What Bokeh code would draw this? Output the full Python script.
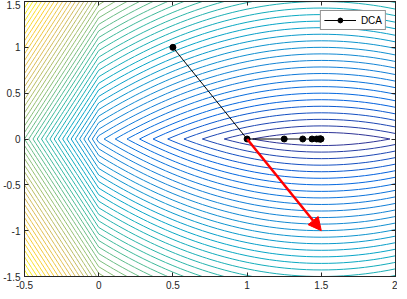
import numpy as np
from bokeh.plotting import figure
from bokeh.models import (Range1d, LinearAxis, FixedTicker, ColumnDataSource,
                          Arrow, NormalHead, Legend, CustomLabelingPolicy)
from bokeh.embed import file_html
from bokeh.resources import INLINE

# ---- data ----
dca_x = [0.5, 1.0, 1.25, 1.375, 1.4375, 1.46875, 1.484375, 1.4921875, 1.49609375, 1.498046875]
dca_y = [1.0, 0.0, 0.0, 0.0, 0.0, 0.0, 0.0, 0.0, 0.0, 0.0]

arrow_x_start = [1.0]
arrow_y_start = [0.0]
arrow_x_end = [1.5]
arrow_y_end = [-1.0]

x_ticks = [-0.5, 0, 0.5, 1, 1.5, 2]
x_tick_labels = ["-0.5", "0", "0.5", "1", "1.5", "2"]
y_ticks = [-1.5, -1, -0.5, 0, 0.5, 1, 1.5]
y_tick_labels = ["-1.5", "-1", "-0.5", "0", "0.5", "1", "1.5"]

x_limits = [-0.5, 2.0]
y_limits = [-1.5, 1.5]

# parula colormap anchors
parula = ["#352a87", "#0363e1", "#1485d4", "#06a7c6", "#38b99e",
          "#92bf73", "#d9ba56", "#fcce2e", "#f9fb0e"]

# ---- contour field ----
grid_x = np.linspace(x_limits[0], x_limits[1], 51)
grid_y = np.linspace(y_limits[0], y_limits[1], 61)
X, Y = np.meshgrid(grid_x, grid_y)
G = np.where(X >= 0, (X - 1.5) ** 2 / 3.0, 0.75 - 2.5 * X)
Z = np.abs(Y) + G
n_levels = 48
zmin, zmax = Z.min(), Z.max()
levels = np.linspace(zmin, zmax, n_levels + 2)[1:-1]


def hex2rgb(h):
    return np.array([int(h[i:i + 2], 16) for i in (1, 3, 5)], dtype=float)


anchors = np.array([hex2rgb(h) for h in parula])
anchor_t = np.linspace(0, 1, len(parula))


def cmap(t):
    rgb = [np.interp(t, anchor_t, anchors[:, k]) for k in range(3)]
    return "#%02x%02x%02x" % tuple(int(round(c)) for c in rgb)


level_colors = [cmap((lv - zmin) / (zmax - zmin)) for lv in levels]

# ---- figure ----
p = figure(width=397, height=291,
           x_range=Range1d(*x_limits), y_range=Range1d(*y_limits),
           output_backend="svg", toolbar_location=None,
           min_border_left=0, min_border_right=2, min_border_top=1, min_border_bottom=0)
p.xgrid.visible = False
p.ygrid.visible = False
p.outline_line_color = "#262626"
p.background_fill_color = "white"

p.contour(X, Y, Z, levels, line_color=level_colors, line_width=1, fill_color=None)

r_line = p.line(dca_x, dca_y, line_color="black", line_width=1)
r_pts = p.scatter(dca_x, dca_y, size=6, fill_color="black", line_color="black")

arrow_src = ColumnDataSource(dict(x_start=arrow_x_start, y_start=arrow_y_start,
                                  x_end=arrow_x_end, y_end=arrow_y_end))
p.add_layout(Arrow(end=NormalHead(size=13, fill_color="red", line_color="red"),
                   x_start="x_start", y_start="y_start", x_end="x_end", y_end="y_end",
                   source=arrow_src, line_color="red", line_width=2.5))


def style_axis(ax, ticks, labels=None):
    ax.ticker = FixedTicker(ticks=ticks)
    ax.minor_tick_line_color = None
    ax.major_tick_in = 4
    ax.major_tick_out = 0
    ax.axis_line_color = "#262626"
    ax.major_tick_line_color = "#262626"
    if labels is not None:
        ax.major_label_overrides = {t: l for t, l in zip(ticks, labels)}
        ax.major_label_text_font = "Liberation Sans"
        ax.major_label_text_font_size = "10px"
        ax.major_label_text_color = "#262626"
    else:
        ax.major_label_policy = CustomLabelingPolicy(
            code="for (const i of indices) { indices.unset(i) }\nreturn indices")
        ax.major_label_text_font_size = "0px"
        ax.major_label_standoff = 0


style_axis(p.xaxis[0], x_ticks, x_tick_labels)
p.xaxis[0].major_label_standoff = 4
style_axis(p.yaxis[0], y_ticks, y_tick_labels)
p.yaxis[0].major_label_standoff = 4

top_ax = LinearAxis()
style_axis(top_ax, x_ticks)
p.add_layout(top_ax, "above")
right_ax = LinearAxis()
style_axis(right_ax, y_ticks)
p.add_layout(right_ax, "right")

legend = Legend(items=[("DCA", [r_line, r_pts])], location="top_right")
legend.border_line_color = "#262626"
legend.border_line_width = 1
legend.background_fill_alpha = 1.0
legend.label_text_font = "Liberation Sans"
legend.label_text_font_size = "10px"
legend.label_text_color = "black"
legend.glyph_width = 32
legend.glyph_height = 12
legend.label_height = 12
legend.padding = 3
legend.spacing = 0
legend.label_standoff = 5
legend.margin = 9
p.add_layout(legend)

open("out.html", "w").write(file_html(p, INLINE))
